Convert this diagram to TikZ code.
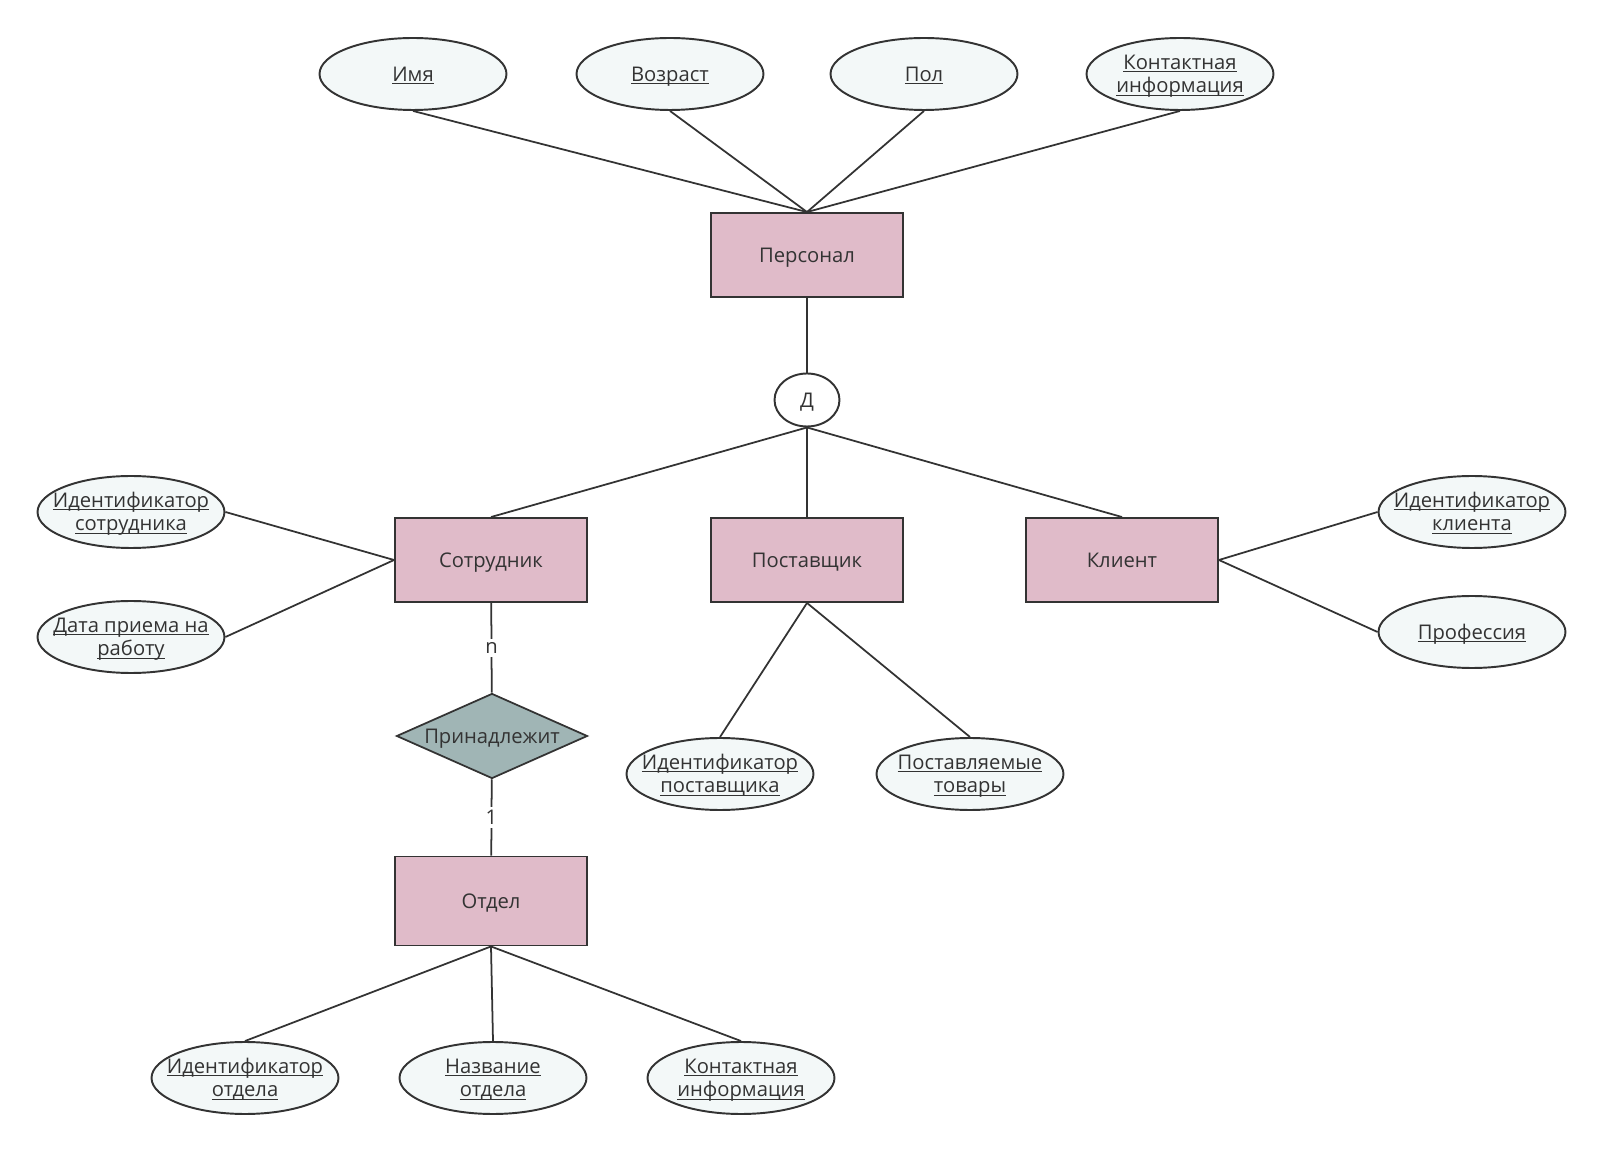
\documentclass[tikz,border=0pt]{standalone}
\usepackage{fontspec}
\setmainfont{Open Sans}
\usepackage{xcolor}
\usetikzlibrary{shapes.geometric,positioning}
\definecolor{entfill}{RGB}{224,187,201}
\definecolor{relfill}{RGB}{160,181,181}
\definecolor{attfill}{RGB}{243,248,248}
\definecolor{ink}{RGB}{51,51,51}
% underlined attribute line with fixed height and depth
\newcommand\attrline[1]{\raisebox{0pt}[8.2pt][0pt]{\setbox0\hbox{#1}\rlap{\rule[-1.6pt]{\wd0}{0.6pt}}\box0}}

\begin{document}
\begin{tikzpicture}[
  x=0.02cm, y=-0.02cm,
  every node/.style={font=\fontsize{11.5}{13.4}\selectfont, text=ink},
  ln/.style={draw=ink, line width=1pt},
  ent/.style={draw=ink, line width=1.1pt, fill=entfill, minimum width=3.84cm, minimum height=1.68cm,
    text height=8.2pt, text depth=0pt},
  attr/.style={ellipse, draw=ink, line width=1.1pt, fill=attfill, align=center,
    minimum width=3.74cm, minimum height=1.44cm, inner xsep=-7pt, inner ysep=0pt},
  rel/.style={diamond, draw=ink, line width=1pt, fill=relfill, aspect=2.25, inner sep=0pt,
    minimum width=3.82cm, minimum height=1.7cm, text height=8.2pt, text depth=0pt},
  disj/.style={ellipse, draw=ink, line width=1.1pt, fill=white, minimum width=1.3cm,
    minimum height=1.06cm, inner sep=0pt, text height=8.2pt, text depth=0pt},
  card/.style={fill=white, inner sep=2pt}
]
  \useasboundingbox (0,0) rectangle (1603,1151);

  % supertype and its attributes
  \node[ent] (staff) at (807,255) {Персонал};
  \node[attr] (name) at (413,74) {\attrline{Имя}};
  \node[attr] (age) at (670,74) {\attrline{Возраст}};
  \node[attr] (sex) at (924,74) {\attrline{Пол}};
  \node[attr] (contact) at (1180,74) {\attrline{Контактная}\\\attrline{информация}};
  \node[disj] (d) at (807,400) {Д};

  % subtypes
  \node[ent] (emp) at (491,560) {Сотрудник};
  \node[ent] (sup) at (807,560) {Поставщик};
  \node[ent] (cli) at (1122,560) {Клиент};
  \node[attr] (empid) at (131,512) {\attrline{Идентификатор}\\\attrline{сотрудника}};
  \node[attr] (hired) at (131,637) {\attrline{Дата приема на}\\\attrline{работу}};
  \node[attr] (cliid) at (1472,512) {\attrline{Идентификатор}\\\attrline{клиента}};
  \node[attr] (prof) at (1472,632) {\attrline{Профессия}};
  \node[attr] (supid) at (720,774) {\attrline{Идентификатор}\\\attrline{поставщика}};
  \node[attr] (goods) at (970,774) {\attrline{Поставляемые}\\\attrline{товары}};

  % department
  \node[rel] (belongs) at (492,736) {Принадлежит};
  \node[ent, minimum height=1.78cm] (dept) at (491,901) {Отдел};
  \node[attr] (deptid) at (245,1078) {\attrline{Идентификатор}\\\attrline{отдела}};
  \node[attr] (deptname) at (493,1078) {\attrline{Название}\\\attrline{отдела}};
  \node[attr] (deptcont) at (741,1078) {\attrline{Контактная}\\\attrline{информация}};

  \foreach \a in {name,age,sex,contact}
    \draw[ln] (\a.south) -- (staff.north);
  \draw[ln] (staff) -- (d);
  \foreach \e in {emp,sup,cli}
    \draw[ln] (d.south) -- (\e.north);
  \foreach \a in {empid,hired}
    \draw[ln] (\a.east) -- (emp.west);
  \foreach \a in {cliid,prof}
    \draw[ln] (cli.east) -- (\a.west);
  \foreach \a in {supid,goods}
    \draw[ln] (sup.south) -- (\a.north);
  \foreach \a in {deptid,deptname,deptcont}
    \draw[ln] (dept.south) -- (\a.north);
  \draw[ln] (emp) -- node[card] {n} (belongs);
  \draw[ln] (belongs) -- node[card] {1} (dept);
\end{tikzpicture}
\end{document}
